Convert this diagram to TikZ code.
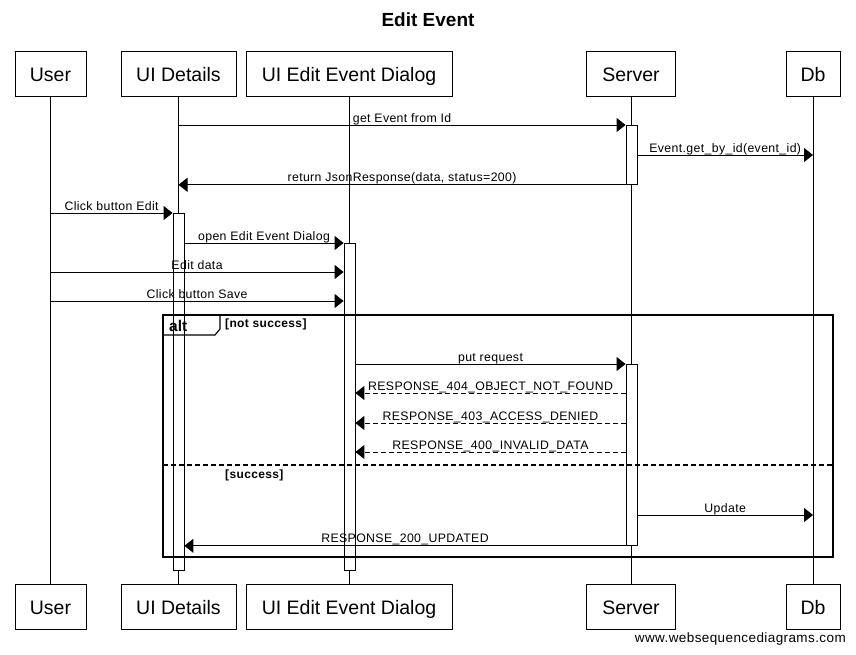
\documentclass[tikz,border=0pt]{standalone}
\usepackage{fontspec}
\setmainfont{Liberation Sans}
\newfontfamily\wsdfont[LetterSpace=3]{Liberation Sans}
\usetikzlibrary{arrows.meta}
\tikzset{
  actor/.style={rectangle, draw=black, line width=1pt, fill=white, minimum height=45pt,
    inner sep=0pt, text height=16pt, text depth=0pt, font=\fontsize{19.5}{23}\selectfont},
  actbar/.style={rectangle, draw=black, line width=0.8pt, fill=white, minimum width=11pt,
    inner sep=0pt, anchor=north},
  life/.style={line width=0.8pt},
  msg/.style={-{Triangle[length=9pt, width=14pt]}, line width=0.9pt},
  reply/.style={msg, dash pattern=on 5pt off 3pt},
  lbl/.style={midway, anchor=base, yshift=3pt, inner sep=0pt, font=\wsdfont\fontsize{12.3}{14}\selectfont},
  guard/.style={anchor=base west, inner sep=0pt, font=\wsdfont\bfseries\fontsize{12}{14}\selectfont},
  frame/.style={line width=1.6pt},
}

\begin{document}
\begin{tikzpicture}[x=1pt, y=-1pt]
    \fill[white] (0,0) rectangle (856,654);
    \useasboundingbox (0,0) rectangle (856,654);

    \node[font=\bfseries\fontsize{19}{22}\selectfont] (title) at (428,20) {Edit Event};

    % participants
    \node[actor, minimum width=71pt] (userT) at (50.5,73.5) {User};
    \node[actor, minimum width=115pt] (uidT) at (178.5,73.5) {UI Details};
    \node[actor, minimum width=206pt] (dlgT) at (349,73.5) {UI Edit Event Dialog};
    \node[actor, minimum width=89pt] (srvT) at (631,73.5) {Server};
    \node[actor, minimum width=54pt] (dbT) at (813,73.5) {Db};
    \node[actor, minimum width=71pt] (userB) at (50.5,606.5) {User};
    \node[actor, minimum width=115pt] (uidB) at (178.5,606.5) {UI Details};
    \node[actor, minimum width=206pt] (dlgB) at (349,606.5) {UI Edit Event Dialog};
    \node[actor, minimum width=89pt] (srvB) at (631,606.5) {Server};
    \node[actor, minimum width=54pt] (dbB) at (813,606.5) {Db};
    \foreach \p in {user, uid, dlg, srv, db}
      \draw[life] (\p T.south) -- (\p B.north);

    % activations
    \node[actbar, minimum height=59pt] (srvA1) at (631.5,125) {};
    \node[actbar, minimum height=357pt] (uidA) at (178.5,213) {};
    \node[actbar, minimum height=327pt] (dlgA) at (349.5,243) {};
    \node[actbar, minimum height=181pt] (srvA2) at (631.5,364) {};

    % alt frame
    \draw[frame] (163,315) rectangle (833,557);
    \draw[line width=1.2pt] (163,335) -- (215,335) -- (220,329) -- (220,315);
    \node[anchor=base west, inner sep=0pt, font=\bfseries\fontsize{15.5}{17}\selectfont] (alt) at (169,331) {alt};
    \node[guard] (g1) at (225,327) {[not success]};
    \draw[frame, dash pattern=on 5pt off 3pt] (163,465) -- (833,465);
    \node[guard] (g2) at (225,478) {[success]};

    % messages
    \draw[msg] (uidT |- srvA1.north) -- (srvA1.north west) node[lbl] {get Event from Id};
    \draw[msg] (srvA1.east |- 0,155) -- (dbT |- 0,155) node[lbl] {Event.get\_by\_id(event\_id)};
    \draw[msg] (srvA1.south west) -- (uidT |- srvA1.south) node[lbl] {return JsonResponse(data, status=200)};
    \draw[msg] (userT |- uidA.north) -- (uidA.north west) node[lbl] {Click button Edit};
    \draw[msg] (uidA.east |- dlgA.north) -- (dlgA.north west) node[lbl] {open Edit Event Dialog};
    \draw[msg] (userT |- 0,272) -- (dlgA.west |- 0,272) node[lbl] {Edit data};
    \draw[msg] (userT |- 0,301) -- (dlgA.west |- 0,301) node[lbl] {Click button Save};
    \draw[msg] (dlgA.east |- srvA2.north) -- (srvA2.north west) node[lbl] {put request};
    \draw[reply] (srvA2.west |- 0,393) -- (dlgA.east |- 0,393) node[lbl] {RESPONSE\_404\_OBJECT\_NOT\_FOUND};
    \draw[reply] (srvA2.west |- 0,423) -- (dlgA.east |- 0,423) node[lbl] {RESPONSE\_403\_ACCESS\_DENIED};
    \draw[reply] (srvA2.west |- 0,452) -- (dlgA.east |- 0,452) node[lbl] {RESPONSE\_400\_INVALID\_DATA};
    \draw[msg] (srvA2.east |- 0,515) -- (dbT |- 0,515) node[lbl] {Update};
    \draw[msg] (srvA2.south west) -- (uidA.east |- srvA2.south) node[lbl] {RESPONSE\_200\_UPDATED};

    \node[anchor=base east, inner sep=0pt, font=\wsdfont\fontsize{13.5}{15}\selectfont] (credit) at (846,642) {www.websequencediagrams.com};
\end{tikzpicture}
\end{document}
